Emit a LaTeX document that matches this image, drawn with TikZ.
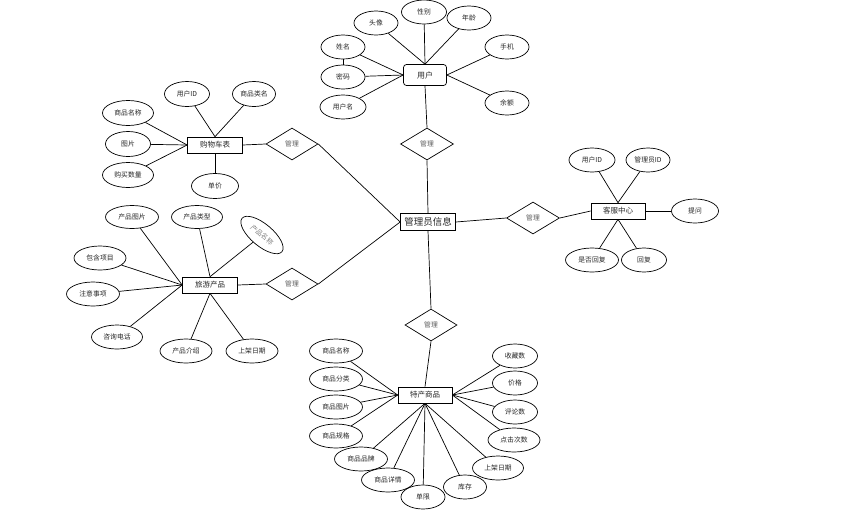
\documentclass[tikz,border=0pt]{standalone}
\usepackage{fontspec}
\newfontfamily\cjk{Noto Sans CJK SC}
\usetikzlibrary{shapes.geometric}
\tikzset{
  base/.style={font=\cjk\fontsize{6.8}{8}\selectfont, inner sep=0pt, line width=0.7pt, text=black!85},
  attr/.style={base, draw, ellipse, minimum width=46pt, minimum height=24pt},
  ent/.style={base, draw, rectangle, minimum width=55pt, minimum height=16pt, font=\cjk\fontsize{7.5}{9}\selectfont},
  rel/.style={base, draw, diamond, minimum width=53pt, minimum height=32pt, text=black!65},
  link/.style={line width=0.7pt},
}
\begin{document}
\begin{tikzpicture}[x=1pt,y=-1pt]
\useasboundingbox (0,0) rectangle (841,520);
% ---------- user ----------
\node[ent, rounded corners=3pt, minimum width=43pt, minimum height=21pt, font=\cjk\fontsize{8}{9}\selectfont] (user) at (425,75) {用户};
\node[attr, minimum width=44pt] (utx) at (376,23) {头像};
\node[attr, minimum width=45pt] (uxb) at (424,12) {性别};
\node[attr, minimum width=44pt] (unl) at (469,18) {年龄};
\node[attr, minimum width=44pt] (uxm) at (343,47) {姓名};
\node[attr, minimum width=44pt] (usj) at (507,47) {手机};
\node[attr, minimum width=44pt] (umm) at (343,77) {密码};
\node[attr, minimum width=46pt] (uyhm) at (343,107) {用户名};
\node[attr, minimum width=44pt] (uye) at (507,103) {余额};
\draw[link] (utx) -- (user.north);
\draw[link] (uxb) -- (user.north);
\draw[link] (unl) -- (user.north);
\draw[link] (uxm) -- (user.west);
\draw[link] (umm) -- (user.west);
\draw[link] (uyhm) -- (user.west);
\draw[link] (usj) -- (user.east);
\draw[link] (uye) -- (user.east);
\draw[link] (uxm) -- (umm);
% ---------- admin ----------
\node[rel] (m1) at (427,144) {管理};
\node[ent, font=\cjk\fontsize{9.5}{11}\selectfont, minimum width=55pt, minimum height=17pt] (admin) at (428,222) {管理员信息};
\draw[link] (user.south) -- (m1.north);
\draw[link] (m1.south) -- (admin.north);
% ---------- cart ----------
\node[ent] (cart) at (215,145) {购物车表};
\node[attr, minimum width=45pt, minimum height=25pt] (cid) at (187,94) {用户ID};
\node[attr, minimum width=43pt, minimum height=25pt] (clm) at (254,94) {商品类名};
\node[attr, minimum width=51pt, minimum height=25pt] (cmc) at (128,113) {商品名称};
\node[attr, minimum width=45pt, minimum height=25pt] (ctp) at (128,144) {图片};
\node[attr, minimum width=51pt, minimum height=25pt] (csl) at (128,175) {购买数量};
\node[attr, minimum width=47pt, minimum height=25pt] (cdj) at (215,186) {单价};
\node[rel, minimum width=52pt] (m2) at (292,144) {管理};
\draw[link] (cid) -- (cart.north);
\draw[link] (clm) -- (cart.north);
\draw[link] (cmc) -- (cart.west);
\draw[link] (ctp) -- (cart.west);
\draw[link] (csl) -- (cart.west);
\draw[link] (cdj) -- (cart.south);
\draw[link] (cart.east) -- (m2.west);
\draw[link] (m2.east) -- (admin.west);
% ---------- travel ----------
\node[ent] (tr) at (210,285) {旅游产品};
\node[attr, minimum width=53pt, minimum height=23pt] (ttp) at (132,217) {产品图片};
\node[attr, minimum width=51pt, minimum height=23pt] (tlx) at (197,217) {产品类型};
\node[attr, minimum width=52pt, minimum height=22pt, rotate=-40, text=black!50] (tmc) at (262,235) {产品名称};
\node[attr, minimum width=52pt, minimum height=24pt] (txm) at (100,258) {包含项目};
\node[attr, minimum width=53pt, minimum height=24pt] (tzy) at (93,294) {注意事项};
\node[attr, minimum width=51pt, minimum height=24pt] (tdh) at (117,337) {咨询电话};
\node[attr, minimum width=52pt, minimum height=24pt] (tjs) at (186,351) {产品介绍};
\node[attr, minimum width=52pt, minimum height=24pt] (trq) at (252,351) {上架日期};
\node[rel, minimum width=52pt] (m3) at (292,284) {管理};
\draw[link] (ttp) -- (tr.west);
\draw[link] (tlx) -- (tr.north);
\draw[link] (tmc) -- (tr.north);
\draw[link] (txm) -- (tr.west);
\draw[link] (tzy) -- (tr.west);
\draw[link] (tdh) -- (tr.west);
\draw[link] (tjs) -- (tr.south);
\draw[link] (trq) -- (tr.south);
\draw[link] (tr.east) -- (m3.west);
\draw[link] (m3.east) -- (admin.west);
% ---------- service ----------
\node[ent, minimum width=54pt] (kf) at (618,211) {客服中心};
\node[attr, minimum width=46pt] (kuid) at (592,160) {用户ID};
\node[attr, minimum width=44pt] (kaid) at (648,160) {管理员ID};
\node[attr, minimum width=47pt] (ktw) at (695,211) {提问};
\node[attr, minimum width=53pt] (ksf) at (592,260) {是否回复};
\node[attr, minimum width=45pt] (khf) at (644,260) {回复};
\node[rel] (m4) at (533,218) {管理};
\draw[link] (kuid) -- (kf.north);
\draw[link] (kaid) -- (kf.north);
\draw[link] (ktw) -- (kf.east);
\draw[link] (ksf) -- (kf.south);
\draw[link] (khf) -- (kf.south);
\draw[link] (m4.east) -- (kf.west);
\draw[link] (admin.east) -- (m4.west);
% ---------- specialty ----------
\node[ent, minimum width=54pt] (sp) at (425,395) {特产商品};
\node[rel, minimum width=52pt] (m5) at (431,325) {管理};
\node[attr, minimum width=53pt] (smc) at (336,351) {商品名称};
\node[attr, minimum width=53pt] (sfl) at (336,379) {商品分类};
\node[attr, minimum width=53pt] (stp) at (336,407) {商品图片};
\node[attr, minimum width=53pt] (sgg) at (336,436) {商品规格};
\node[attr, minimum width=53pt] (spp) at (361,459) {商品品牌};
\node[attr, minimum width=53pt] (sxq) at (388,480) {商品详情};
\node[attr, minimum width=44pt] (sdx) at (423,497) {单限};
\node[attr, minimum width=43pt] (skc) at (465,487) {库存};
\node[attr, minimum width=51pt] (srq) at (498,468) {上架日期};
\node[attr, minimum width=52pt] (sdj) at (514,440) {点击次数};
\node[attr, minimum width=45pt] (spl) at (515,412) {评论数};
\node[attr, minimum width=45pt] (sjg) at (515,383) {价格};
\node[attr, minimum width=45pt] (ssc) at (515,356) {收藏数};
\draw[link] (admin.south) -- (m5.north);
\draw[link] (m5.south) -- (sp.north);
\draw[link] (smc) -- (sp.west);
\draw[link] (sfl) -- (sp.west);
\draw[link] (stp) -- (sp.west);
\draw[link] (sgg) -- (sp.west);
\draw[link] (spp) -- (sp.south);
\draw[link] (sxq) -- (sp.south);
\draw[link] (sdx) -- (sp.south);
\draw[link] (skc) -- (sp.south);
\draw[link] (srq) -- (sp.south);
\draw[link] (sdj) -- (sp.east);
\draw[link] (spl) -- (sp.east);
\draw[link] (sjg) -- (sp.east);
\draw[link] (ssc) -- (sp.east);
\end{tikzpicture}
\end{document}
